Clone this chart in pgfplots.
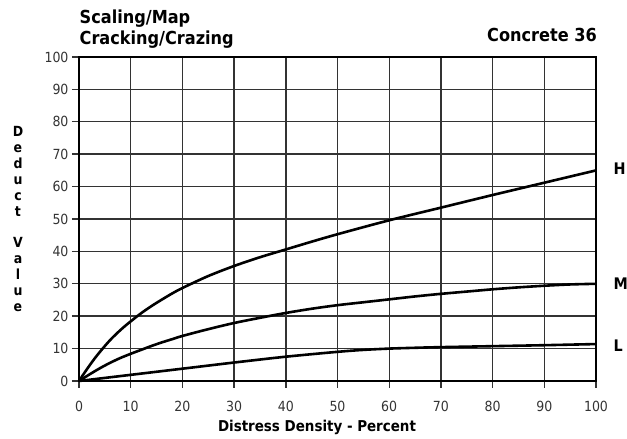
\documentclass[border=0pt]{standalone}
\usepackage{fontspec}
\setmainfont{DejaVu Sans Condensed}
\usepackage{pgfplots}
\pgfplotsset{compat=1.18}
\begin{document}
\begin{tikzpicture}
\begin{axis}[
  name=ax, at={(0,0)}, anchor=south west,
  scale only axis, width=517bp, height=324bp,
  xmin=0, xmax=100, ymin=0, ymax=100,
  xtick={0,10,...,100}, ytick={0,10,...,100},
  grid=major,
  major grid style={line width=1.4bp, color=black!80},
  axis line style={line width=1.9bp, black},
  tick style={line width=1.4bp, color=black!80},
  tick align=outside, major tick length=7bp,
  tick pos=left,
  /pgf/number format/assume math mode=true,
  ticklabel style={font=\fontsize{14}{16}\selectfont, text=black!80},
  xticklabel style={yshift=-10bp},
  clip=false,
]
\addplot[line width=2.6bp, smooth, black] coordinates {
(0,0) (1,2.4) (2,4.7) (3,6.9) (4,8.9) (5,10.8) (6,12.6) (7,14.2) (8,15.7) (9,17.1)
(10,18.4) (12,20.9) (14,23.1) (16,25.1) (18,27.0) (20,28.7) (25,32.4) (30,35.5)
(35,38.2) (40,40.6) (45,43.0) (50,45.3) (60,49.6) (70,53.5) (80,57.4) (90,61.2) (100,65)};
\addplot[line width=2.6bp, smooth, black] coordinates {
(0,0) (2,2.0) (4,3.9) (6,5.6) (8,7.1) (10,8.4) (12,9.6) (14,10.8) (16,11.9) (18,12.9)
(20,13.9) (25,16.0) (30,17.9) (35,19.5) (40,21.0) (45,22.3) (50,23.4) (55,24.3)
(60,25.2) (65,26.1) (70,26.9) (75,27.6) (80,28.3) (85,28.9) (90,29.4) (95,29.8) (100,30.0)};
\addplot[line width=2.6bp, smooth, black] coordinates {
(0,0) (10,1.9) (20,3.8) (30,5.7) (40,7.5) (50,9.0) (55,9.6) (60,10.0) (65,10.25)
(70,10.45) (80,10.75) (90,11.05) (100,11.4)};
\node[anchor=west, xshift=14bp, font=\bfseries\fontsize{16}{18}\selectfont] at (axis cs:100,65.5) {H};
\node[anchor=west, xshift=14bp, font=\bfseries\fontsize{16}{18}\selectfont] at (axis cs:100,30) {M};
\node[anchor=west, xshift=14bp, font=\bfseries\fontsize{16}{18}\selectfont] at (axis cs:100,10.8) {L};
\end{axis}
\node[anchor=base west, font=\bfseries\fontsize{18}{20}\selectfont, inner sep=0pt] at ([shift={(0.5bp,357bp)}]ax.south west) {Scaling/Map};
\node[anchor=base west, font=\bfseries\fontsize{18}{20}\selectfont, inner sep=0pt] at ([shift={(0.5bp,336bp)}]ax.south west) {Cracking/Crazing};
\node[anchor=base east, font=\bfseries\fontsize{18}{20}\selectfont, inner sep=0pt] at ([shift={(518bp,339bp)}]ax.south west) {Concrete 36};
\node[anchor=base, font=\bfseries\fontsize{15}{17}\selectfont, inner sep=0pt] at ([shift={(238bp,-50.7bp)}]ax.south west) {Distress Density - Percent};
\node[align=center, font=\bfseries\fontsize{14}{16}\selectfont, inner sep=0pt] at ([shift={(-61bp,162bp)}]ax.south west) {D\\e\\d\\u\\c\\t\\~\\V\\a\\l\\u\\e};
\pgfresetboundingbox
\useasboundingbox ([shift={(-79bp,-58bp)}]ax.south west) rectangle ([shift={(548bp,381bp)}]ax.south west);
\end{tikzpicture}
\end{document}
